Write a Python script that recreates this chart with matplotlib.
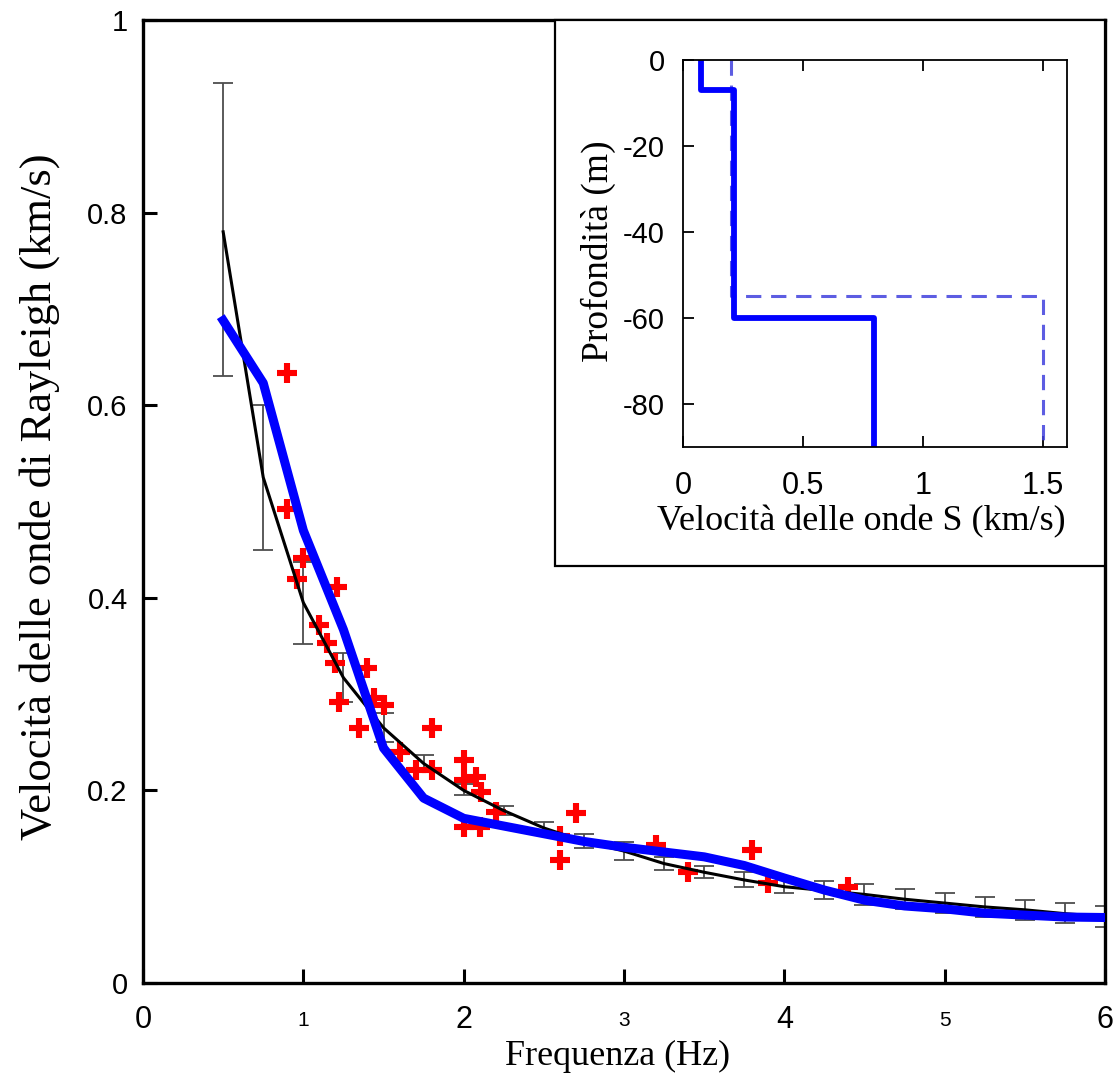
import matplotlib
matplotlib.use("Agg")
import matplotlib.pyplot as plt
import numpy as np
from matplotlib.patches import Rectangle

# ---------------- data ----------------
freq = [0.5, 0.75, 1.0, 1.25, 1.5, 1.75, 2.0, 2.25, 2.5, 2.75, 3.0, 3.25, 3.5,
        3.75, 4.0, 4.25, 4.5, 4.75, 5.0, 5.25, 5.5, 5.75, 6.0]
obs_mean = [0.78, 0.525, 0.395, 0.317, 0.265, 0.228, 0.200, 0.179, 0.161, 0.147,
            0.137, 0.124, 0.115, 0.107, 0.100, 0.096, 0.092, 0.087, 0.083, 0.079,
            0.076, 0.072, 0.069]
obs_low = [0.63, 0.45, 0.352, 0.292, 0.250, 0.219, 0.195, 0.174, 0.155, 0.140,
           0.128, 0.117, 0.109, 0.100, 0.093, 0.087, 0.081, 0.077, 0.0725, 0.0685,
           0.065, 0.062, 0.058]
obs_high = [0.935, 0.60, 0.437, 0.343, 0.280, 0.237, 0.207, 0.184, 0.167, 0.155,
            0.146, 0.131, 0.122, 0.115, 0.110, 0.106, 0.103, 0.098, 0.0935, 0.089,
            0.086, 0.083, 0.080]
model_vel = [0.688, 0.623, 0.470, 0.367, 0.244, 0.192, 0.171, 0.163, 0.155, 0.147,
             0.141, 0.136, 0.131, 0.122, 0.109, 0.0965, 0.086, 0.080, 0.077, 0.0725,
             0.0705, 0.0685, 0.068]

pts_f = [0.9, 0.9, 0.96, 1.0, 1.1, 1.15, 1.2, 1.21, 1.22, 1.35, 1.40, 1.44, 1.50,
         1.60, 1.70, 1.80, 1.80, 2.0, 2.0, 2.0, 2.08, 2.1, 2.11, 2.2, 2.6, 2.6,
         2.7, 3.2, 3.4, 3.8, 3.9, 4.4]
pts_v = [0.633, 0.492, 0.42, 0.441, 0.372, 0.353, 0.332, 0.411, 0.292, 0.265,
         0.327, 0.296, 0.289, 0.240, 0.221, 0.265, 0.221, 0.232, 0.211, 0.162,
         0.214, 0.162, 0.198, 0.178, 0.153, 0.128, 0.177, 0.143, 0.115, 0.138,
         0.104, 0.100]

# inset: S-wave velocity profiles
prof_vs = [0.074, 0.212, 0.797]
prof_iface = [0, -7, -60, -90]
ref_vs = [0.2, 1.5]
ref_iface = [0, -55, -90]

xticks_main = [0, 1, 2, 3, 4, 5, 6]
yticks_main = [0, 0.2, 0.4, 0.6, 0.8, 1.0]
xticks_in = [0, 0.5, 1, 1.5]
yticks_in = [0, -20, -40, -60, -80]


def steps(vs, iface):
    xs, ys = [], []
    for i, v in enumerate(vs):
        xs += [v, v]
        ys += [iface[i], iface[i + 1]]
    return xs, ys


# ---------------- figure ----------------
W, H = 1118, 1079
fig = plt.figure(figsize=(W / 100, H / 100), dpi=100)
fig.patch.set_facecolor("white")

serif = ["Liberation Serif", "DejaVu Serif"]
sans = ["Liberation Sans", "DejaVu Sans"]

ax = fig.add_axes([143 / W, 1 - 983 / H, (1105 - 143) / W, (983 - 20) / H])
yerr = [np.array(obs_mean) - np.array(obs_low), np.array(obs_high) - np.array(obs_mean)]
ax.errorbar(freq, obs_mean, yerr=yerr, fmt="none", ecolor="#4d4d4d",
            elinewidth=1.3, capsize=7.5, capthick=1.3, zorder=2)
ax.plot(pts_f, pts_v, linestyle="none", marker="+", color="#ff0000",
        markersize=15, markeredgewidth=4.4, zorder=3)
ax.plot(freq, obs_mean, color="black", lw=2.2, zorder=4)
ax.plot(freq, model_vel, color="#0000ff", lw=6.5, solid_joinstyle="round", zorder=5)

ax.set_xlim(0, 6)
ax.set_ylim(0, 1)
ax.set_xticks(xticks_main)
ax.set_yticks(yticks_main)
ax.set_xticklabels([f"{t:g}" for t in xticks_main], family=sans)
ax.set_yticklabels([f"{t:g}" for t in yticks_main], family=sans, fontsize=21)
for t, lab in zip(xticks_main, ax.get_xticklabels()):
    lab.set_fontsize(22 if t % 2 == 0 else 15)
    lab.set_verticalalignment("center")
ax.tick_params(direction="in", length=10, width=2.2, top=False, right=False)
ax.tick_params(axis="x", pad=27)
ax.tick_params(axis="y", pad=11)
for s in ax.spines.values():
    s.set_linewidth(2.4)
ax.set_xlabel("Frequenza (Hz)", family=serif, fontsize=26)
ax.set_ylabel("Velocità delle onde di Rayleigh (km/s)", family=serif, fontsize=32)
ax.xaxis.set_label_coords((618 - 143) / 962, (983 - 1040) / 963)
ax.yaxis.set_label_coords((60 - 143) / 962, (983 - 497) / 963)

# inset frame
bx0, by0, bx1, by1 = 555, 20, 1105, 566
ax.add_patch(Rectangle(((bx0 - 143) / 962, (983 - by1) / 963),
                       (bx1 - bx0) / 962, (by1 - by0) / 963,
                       transform=ax.transAxes, facecolor="white",
                       edgecolor="black", lw=1.6, zorder=10, clip_on=False))

# inset axes
axi = fig.add_axes([683 / W, 1 - 447 / H, (1067 - 683) / W, (447 - 60) / H])
axi.set_zorder(20)
xs, ys = steps(ref_vs, ref_iface)
axi.plot(xs, ys, color="#4040dd", alpha=0.85, lw=2.2, dashes=(5, 3.2))
xs, ys = steps(prof_vs, prof_iface)
axi.plot(xs, ys, color="#0000ff", lw=4.2)
axi.set_xlim(0, 1.6)
axi.set_ylim(-90, 0)
axi.set_xticks(xticks_in)
axi.set_yticks(yticks_in)
axi.set_xticklabels([f"{t:g}" for t in xticks_in], family=sans, fontsize=22)
axi.set_yticklabels([f"{t:g}" for t in yticks_in], family=sans, fontsize=21)
axi.tick_params(direction="in", length=8, width=1.3, top=True, right=False)
axi.tick_params(axis="x", pad=17)
axi.tick_params(axis="y", pad=13)
for s in axi.spines.values():
    s.set_linewidth(1.3)
axi.set_xlabel("Velocità delle onde S (km/s)", family=serif, fontsize=26)
axi.set_ylabel("Profondità (m)", family=serif, fontsize=27)
axi.xaxis.set_label_coords((861 - 683) / 384, (447 - 505) / 387)
axi.yaxis.set_label_coords((616 - 683) / 384, (447 - 251) / 387)

fig.savefig("out.png", dpi=100)
